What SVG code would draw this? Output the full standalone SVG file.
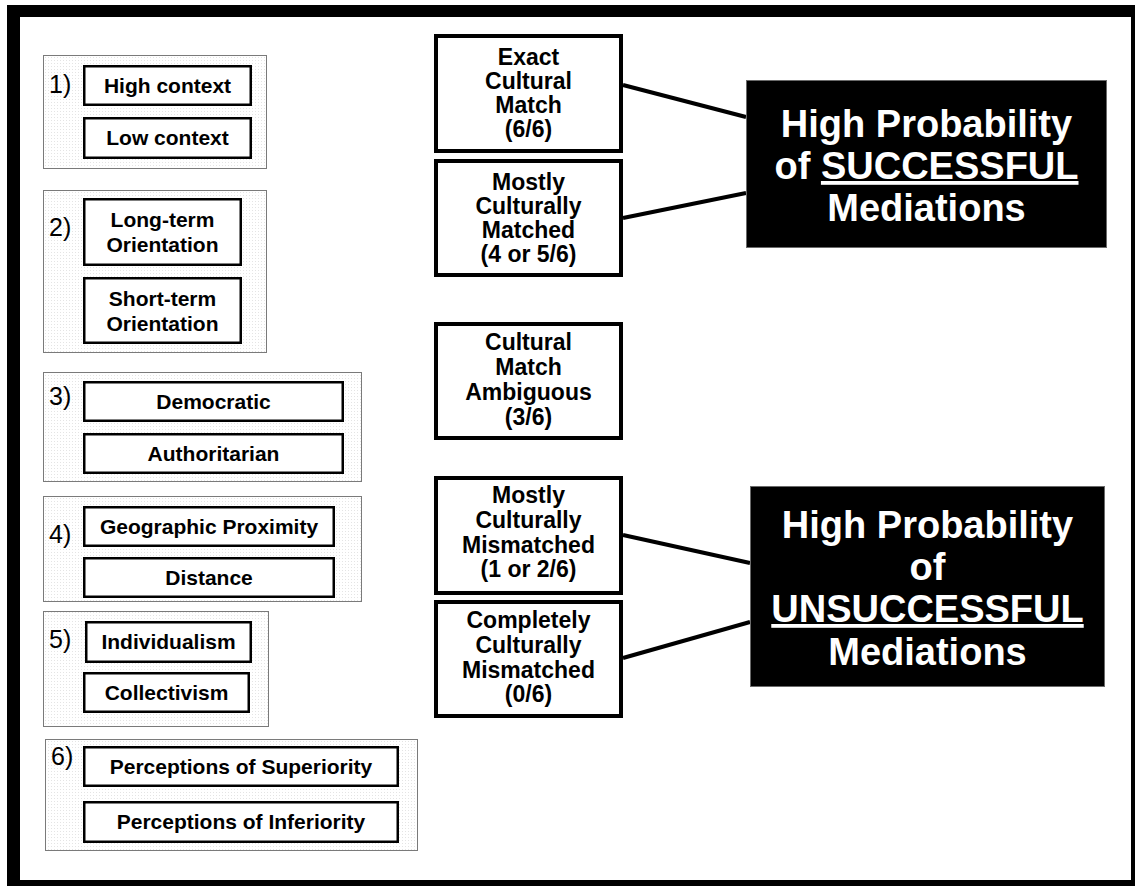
<svg xmlns="http://www.w3.org/2000/svg" width="1135" height="886" viewBox="0 0 1135 886">
  <defs>
    <pattern id="dots" x="0" y="0" width="3" height="3" patternUnits="userSpaceOnUse">
      <rect width="3" height="3" fill="#ffffff"/>
      <rect width="1" height="1" fill="#e4e4e4"/>
    </pattern>
    <style>
      .grp { fill: url(#dots); stroke: #7a7a7a; stroke-width: 1; }
      .opt { fill: #ffffff; stroke: #000000; stroke-width: 2.5; }
      .mid { fill: #ffffff; stroke: #000000; stroke-width: 4; }
      .res { fill: #000000; stroke: #6a6a6a; stroke-width: 1; }
      .num { font-family: "Liberation Sans", Arial, sans-serif; font-size: 25px; fill: #000; }
      .ot { font-family: "Liberation Sans", Arial, sans-serif; font-size: 21px; font-weight: bold; fill: #000; text-anchor: middle; }
      .mt { font-family: "Liberation Sans", Arial, sans-serif; font-size: 23px; font-weight: bold; fill: #000; text-anchor: middle; }
      .rt { font-family: "Liberation Sans", Arial, sans-serif; font-size: 38px; font-weight: bold; fill: #fff; text-anchor: middle; }
      .conn { stroke: #000; stroke-width: 4; fill: none; }
    </style>
  </defs>
  <rect width="1135" height="886" fill="#ffffff"/>
  <path d="M7 5 H1135 V886 H7 Z M20 17 V880 H1131 V17 Z" fill="#000" fill-rule="evenodd"/>

  <g id="group1">
    <rect class="grp" x="43.5" y="55.5" width="223" height="113"/>
    <text class="num" x="49" y="93">1)</text>
    <g id="high-context">
      <rect class="opt" x="84.25" y="66.25" width="166.5" height="38.5"/>
      <text class="ot" x="167.5" y="93">High context</text>
    </g>
    <g id="low-context">
      <rect class="opt" x="84.25" y="118.25" width="166.5" height="39.5"/>
      <text class="ot" x="167.5" y="145">Low context</text>
    </g>
  </g>

  <g id="group2">
    <rect class="grp" x="43.5" y="190.5" width="223" height="162"/>
    <text class="num" x="49" y="236">2)</text>
    <g id="long-term">
      <rect class="opt" x="84.25" y="199.25" width="156.5" height="65.5"/>
      <text class="ot" x="162.5" y="227">Long-term</text>
      <text class="ot" x="162.5" y="252">Orientation</text>
    </g>
    <g id="short-term">
      <rect class="opt" x="84.25" y="278.25" width="156.5" height="64.5"/>
      <text class="ot" x="162.5" y="306">Short-term</text>
      <text class="ot" x="162.5" y="331">Orientation</text>
    </g>
  </g>

  <g id="group3">
    <rect class="grp" x="43.5" y="372.5" width="318" height="109"/>
    <text class="num" x="49" y="405">3)</text>
    <g id="democratic">
      <rect class="opt" x="84.25" y="382.25" width="258.5" height="38.5"/>
      <text class="ot" x="213.5" y="409">Democratic</text>
    </g>
    <g id="authoritarian">
      <rect class="opt" x="84.25" y="434.25" width="258.5" height="38.5"/>
      <text class="ot" x="213.5" y="461">Authoritarian</text>
    </g>
  </g>

  <g id="group4">
    <rect class="grp" x="43.5" y="496.5" width="318" height="105"/>
    <text class="num" x="49" y="543">4)</text>
    <g id="geographic-proximity">
      <rect class="opt" x="84.25" y="507.25" width="249.5" height="38.5"/>
      <text class="ot" x="209" y="534">Geographic Proximity</text>
    </g>
    <g id="distance">
      <rect class="opt" x="84.25" y="558.25" width="249.5" height="38.5"/>
      <text class="ot" x="209" y="585">Distance</text>
    </g>
  </g>

  <g id="group5">
    <rect class="grp" x="43.5" y="611.5" width="225" height="115"/>
    <text class="num" x="49" y="648">5)</text>
    <g id="individualism">
      <rect class="opt" x="86.25" y="622.25" width="164.5" height="39.5"/>
      <text class="ot" x="168.5" y="649">Individualism</text>
    </g>
    <g id="collectivism">
      <rect class="opt" x="84.25" y="673.25" width="164.5" height="38.5"/>
      <text class="ot" x="166.5" y="700">Collectivism</text>
    </g>
  </g>

  <g id="group6">
    <rect class="grp" x="45.5" y="739.5" width="372" height="111"/>
    <text class="num" x="51" y="765">6)</text>
    <g id="superiority">
      <rect class="opt" x="84.25" y="747.25" width="313.5" height="38.5"/>
      <text class="ot" x="241" y="774">Perceptions of Superiority</text>
    </g>
    <g id="inferiority">
      <rect class="opt" x="84.25" y="802.25" width="313.5" height="39.5"/>
      <text class="ot" x="241" y="829">Perceptions of Inferiority</text>
    </g>
  </g>

  <g id="connectors">
    <line class="conn" x1="623" y1="85" x2="746" y2="117"/>
    <line class="conn" x1="623" y1="218" x2="746" y2="193"/>
    <line class="conn" x1="623" y1="535" x2="750" y2="563"/>
    <line class="conn" x1="623" y1="658" x2="750" y2="622"/>
  </g>

  <g id="exact-match">
    <rect class="mid" x="436" y="36" width="185" height="115"/>
    <text class="mt" x="528.5" y="65">Exact</text>
    <text class="mt" x="528.5" y="89">Cultural</text>
    <text class="mt" x="528.5" y="113">Match</text>
    <text class="mt" x="528.5" y="137">(6/6)</text>
  </g>
  <g id="mostly-matched">
    <rect class="mid" x="436" y="161" width="185" height="114"/>
    <text class="mt" x="528.5" y="190">Mostly</text>
    <text class="mt" x="528.5" y="214">Culturally</text>
    <text class="mt" x="528.5" y="238">Matched</text>
    <text class="mt" x="528.5" y="262">(4 or 5/6)</text>
  </g>
  <g id="ambiguous">
    <rect class="mid" x="436" y="324" width="185" height="114"/>
    <text class="mt" x="528.5" y="350">Cultural</text>
    <text class="mt" x="528.5" y="375">Match</text>
    <text class="mt" x="528.5" y="400">Ambiguous</text>
    <text class="mt" x="528.5" y="425">(3/6)</text>
  </g>
  <g id="mostly-mismatched">
    <rect class="mid" x="436" y="478" width="185" height="115"/>
    <text class="mt" x="528.5" y="503">Mostly</text>
    <text class="mt" x="528.5" y="528">Culturally</text>
    <text class="mt" x="528.5" y="553">Mismatched</text>
    <text class="mt" x="528.5" y="577">(1 or 2/6)</text>
  </g>
  <g id="completely-mismatched">
    <rect class="mid" x="436" y="602" width="185" height="114"/>
    <text class="mt" x="528.5" y="628">Completely</text>
    <text class="mt" x="528.5" y="653">Culturally</text>
    <text class="mt" x="528.5" y="678">Mismatched</text>
    <text class="mt" x="528.5" y="702">(0/6)</text>
  </g>

  <g id="successful">
    <rect class="res" x="746.5" y="80.5" width="360" height="167"/>
    <text class="rt" x="926.5" y="137">High Probability</text>
    <text class="rt" x="926.5" y="179">of <tspan text-decoration="underline">SUCCESSFUL</tspan></text>
    <text class="rt" x="926.5" y="221">Mediations</text>
  </g>
  <g id="unsuccessful">
    <rect class="res" x="750.5" y="486.5" width="354" height="200"/>
    <text class="rt" x="927.5" y="538">High Probability</text>
    <text class="rt" x="927.5" y="580">of</text>
    <text class="rt" x="927.5" y="622" text-decoration="underline">UNSUCCESSFUL</text>
    <text class="rt" x="927.5" y="665">Mediations</text>
  </g>
</svg>
